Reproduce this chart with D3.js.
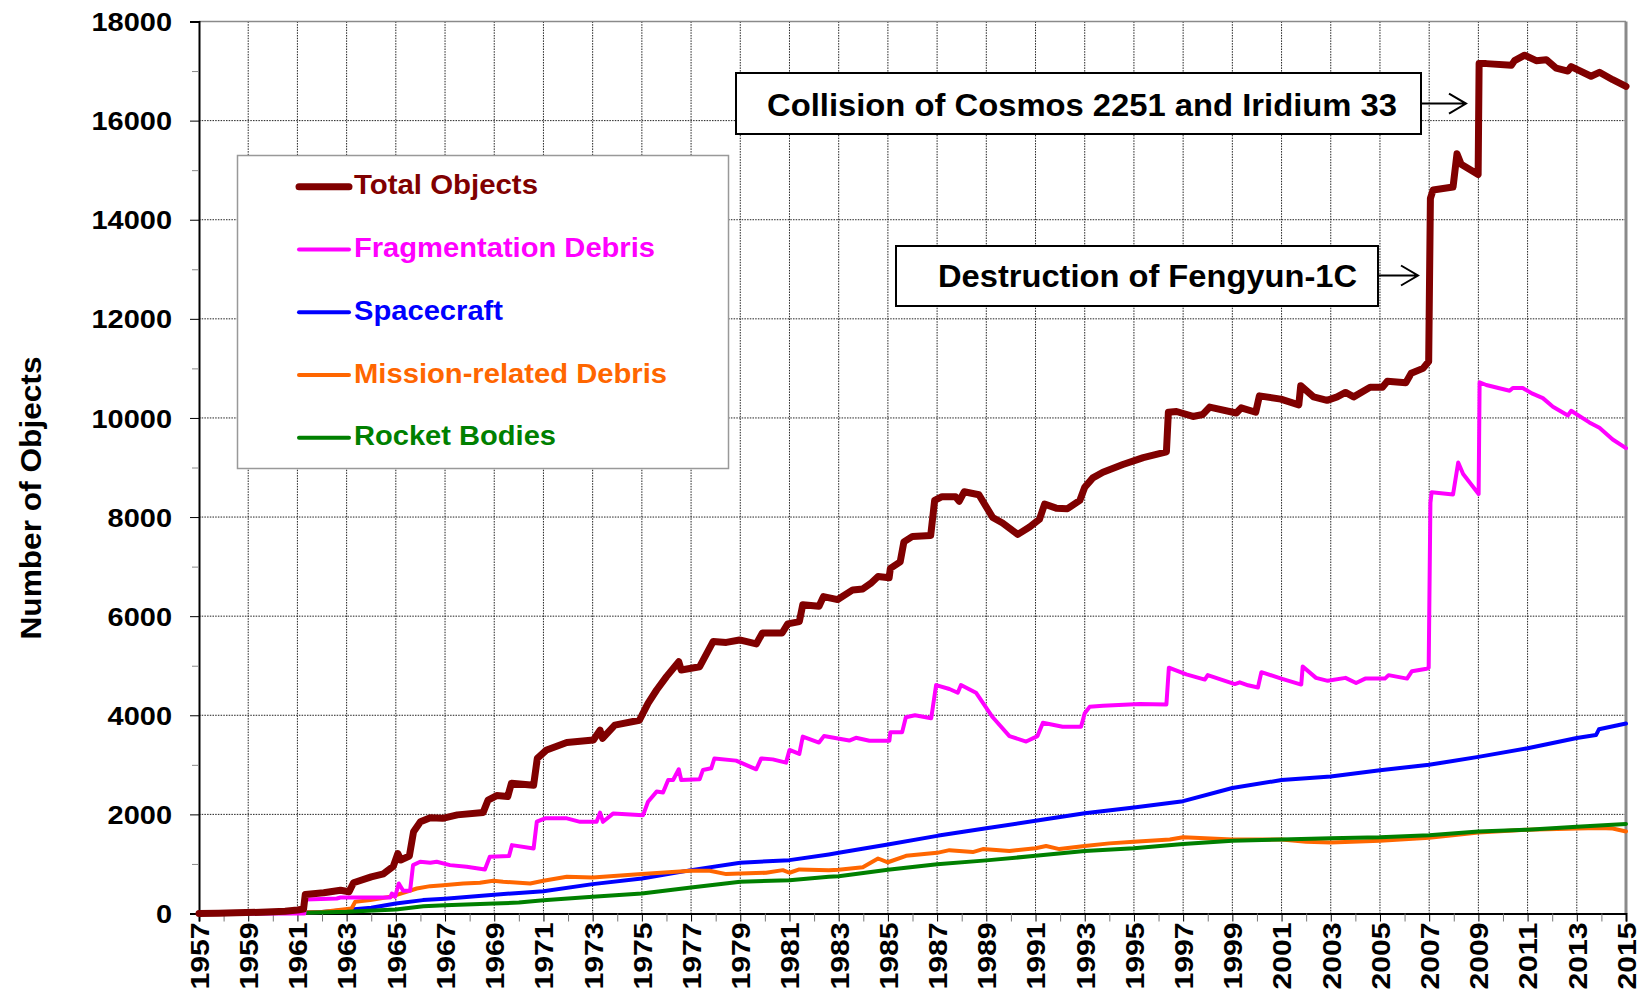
<!DOCTYPE html>
<html>
<head>
<meta charset="utf-8">
<script src="https://cdn.jsdelivr.net/npm/d3@7"></script>
<style>
html,body{margin:0;padding:0;background:#fff;}
svg{display:block;}
text{font-family:"Liberation Sans",Arial,Helvetica,sans-serif;font-weight:bold;}
</style>
</head>
<body>
<svg id="chart" width="1641" height="990"></svg>
<script>
// ---------- DATA ----------
const seriesNames = ["Total Objects","Fragmentation Debris","Spacecraft","Mission-related Debris","Rocket Bodies"];
const yTicks = [0,2000,4000,6000,8000,10000,12000,14000,16000,18000];
const xLabelYears = d3.range(1957, 2016, 2);

const totalObjects = [
[1957.0,0],[1957.8,5],[1958.5,15],[1959.5,25],[1960.5,45],[1961.0,70],[1961.25,90],[1961.32,385],
[1962.07,420],[1962.75,470],[1963.1,440],[1963.28,620],[1964.0,740],[1964.5,800],[1964.9,955],
[1965.08,1210],[1965.2,1080],[1965.55,1160],[1965.72,1650],[1966.0,1850],[1966.4,1930],[1966.9,1920],
[1967.5,1990],[1968.55,2040],[1968.75,2290],[1969.1,2380],[1969.55,2360],[1969.7,2630],[1970.6,2590],
[1970.75,3130],[1971.13,3300],[1971.95,3450],[1973.03,3500],[1973.3,3700],[1973.4,3535],[1973.9,3800],
[1974.9,3900],[1975.25,4240],[1975.6,4510],[1976.0,4780],[1976.5,5080],[1976.6,4915],[1977.35,4980],
[1977.9,5490],[1978.43,5470],[1978.97,5520],[1979.65,5440],[1979.9,5660],[1980.7,5660],[1980.93,5845],
[1981.4,5890],[1981.54,6230],[1982.2,6200],[1982.38,6395],[1982.96,6335],[1983.57,6530],[1983.98,6550],
[1984.3,6660],[1984.6,6800],[1985.05,6775],[1985.1,6965],[1985.5,7095],[1985.65,7500],[1986.0,7610],
[1986.74,7630],[1986.9,8335],[1987.2,8410],[1987.75,8410],[1987.9,8320],[1988.1,8510],[1988.7,8450],
[1989.26,7990],[1989.66,7880],[1990.28,7650],[1990.76,7800],[1991.16,7955],[1991.37,8260],[1991.84,8180],
[1992.3,8170],[1992.8,8335],[1993.0,8600],[1993.33,8790],[1993.74,8905],[1994.55,9060],[1995.2,9170],
[1995.38,9200],[1996.32,9315],[1996.4,10115],[1996.73,10130],[1997.4,10030],[1997.8,10070],[1998.08,10220],
[1999.16,10100],[1999.36,10205],[1999.95,10115],[2000.1,10445],[2000.97,10380],[2001.7,10265],[2001.78,10650],
[2002.3,10425],[2002.85,10355],[2003.26,10425],[2003.6,10515],[2003.93,10425],[2004.6,10620],[2005.1,10620],
[2005.3,10740],[2006.05,10710],[2006.27,10900],[2006.75,11000],[2006.98,11140],[2007.05,14430],[2007.16,14600],
[2007.97,14660],[2008.13,15330],[2008.3,15120],[2008.99,14915],[2009.03,17150],[2009.32,17150],[2010.34,17115],
[2010.47,17210],[2010.88,17320],[2011.35,17210],[2011.76,17230],[2012.16,17060],[2012.64,17000],[2012.77,17090],
[2013.58,16895],[2013.92,16975],[2014.46,16825],[2015.0,16690]
];

const fragmentationDebris = [
[1957.0,0],[1961.28,0],[1961.32,283],[1962.6,303],[1962.75,323],[1964.77,323],[1964.84,404],[1964.97,337],
[1965.12,606],[1965.3,458],[1965.58,458],[1965.7,976],[1965.99,1044],[1966.4,1024],[1966.66,1044],[1967.2,976],
[1967.88,943],[1968.62,889],[1968.82,1145],[1969.6,1158],[1969.72,1380],[1970.6,1313],[1970.73,1852],
[1971.07,1920],[1971.95,1920],[1972.49,1850],[1973.16,1850],[1973.3,2035],[1973.42,1850],[1973.84,2020],
[1975.05,1985],[1975.25,2255],[1975.6,2460],[1975.86,2440],[1976.07,2695],[1976.27,2695],[1976.5,2910],
[1976.6,2695],[1977.35,2710],[1977.48,2895],[1977.82,2930],[1977.95,3130],[1978.83,3085],[1979.65,2910],
[1979.85,3130],[1980.32,3110],[1980.86,3045],[1981.0,3300],[1981.4,3220],[1981.54,3570],[1982.2,3450],
[1982.4,3580],[1983.43,3490],[1983.7,3545],[1984.25,3485],[1985.06,3485],[1985.1,3660],[1985.58,3660],
[1985.73,3960],[1986.1,4000],[1986.76,3940],[1986.96,4610],[1987.5,4530],[1987.84,4455],[1987.97,4610],
[1988.58,4455],[1989.26,3960],[1989.94,3580],[1990.62,3470],[1991.08,3580],[1991.3,3850],[1992.1,3770],
[1992.85,3770],[1993.0,4040],[1993.2,4170],[1993.74,4190],[1995.23,4230],[1996.32,4220],[1996.42,4960],
[1997.13,4825],[1997.88,4720],[1998.0,4810],[1999.1,4630],[1999.3,4665],[1999.64,4605],[2000.04,4560],
[2000.18,4870],[2000.99,4740],[2001.8,4620],[2001.86,4985],[2002.4,4755],[2002.88,4695],[2003.6,4755],
[2004.03,4650],[2004.4,4740],[2005.2,4740],[2005.35,4810],[2006.1,4740],[2006.3,4890],[2006.9,4940],
[2006.98,4960],[2007.05,8290],[2007.1,8500],[2007.97,8455],[2008.18,9100],[2008.38,8870],[2009.01,8465],
[2009.05,10720],[2009.32,10665],[2010.27,10550],[2010.4,10605],[2010.8,10605],[2011.2,10490],[2011.62,10400],
[2012.03,10225],[2012.64,10050],[2012.77,10145],[2013.51,9910],[2013.92,9800],[2014.46,9565],[2015.0,9390]
];

const spacecraft = [
[1957,0],[1959,5],[1961,15],[1962,30],[1963.2,80],[1964.0,115],[1965.0,200],[1966.1,270],[1967.0,300],
[1968.0,340],[1969.0,380],[1970.0,415],[1971,451],[1973,593],[1975,707],[1977,875],[1979,1024],[1981,1077],
[1982.6,1192],[1983,1225],[1985,1392],[1987,1567],[1989,1719],[1991,1871],[1993,2023],[1995,2140],
[1997,2267],[1999,2533],[2001,2693],[2003,2764],[2005,2889],[2007,3000],[2009,3161],[2011,3335],
[2013,3543],[2013.78,3600],[2013.9,3717],[2015,3833]
];

const missionDebris = [
[1957,0],[1960,10],[1962,30],[1963.2,100],[1963.35,236],[1963.96,270],[1964.77,337],[1965.3,417],
[1965.85,505],[1966.4,552],[1966.93,572],[1967.74,606],[1968.42,620],[1968.96,660],[1969.36,640],
[1970.46,606],[1971,660],[1971.95,741],[1973,727],[1975,795],[1977,862],[1977.76,862],[1978.43,795],
[1979,808],[1980.05,822],[1980.73,875],[1981.0,822],[1981.4,889],[1982.6,875],[1983,882],[1983.98,935],
[1984.6,1110],[1985,1034],[1985.74,1164],[1987,1224],[1987.5,1278],[1988.45,1240],[1988.86,1300],
[1989.94,1262],[1991,1316],[1991.43,1361],[1991.97,1300],[1993,1361],[1994.0,1415],[1995,1449],
[1996.46,1493],[1997,1538],[1999,1493],[2001,1493],[2002,1449],[2003,1431],[2005,1467],[2007,1530],
[2009,1633],[2011,1690],[2013,1714],[2013.92,1725],[2014.46,1714],[2015,1656]
];

const rocketBodies = [
[1957,0],[1959,5],[1961,12],[1963,34],[1965,81],[1966.12,148],[1967,168],[1969,202],[1970,220],
[1971,269],[1973,337],[1975,404],[1977,525],[1979,640],[1981,673],[1982.6,741],[1983,753],[1985,882],
[1987,996],[1989,1072],[1991,1164],[1993,1262],[1995,1316],[1997,1404],[1999,1467],[2001,1493],
[2003,1520],[2005,1538],[2007,1578],[2009,1656],[2011,1690],[2013,1749],[2015,1806]
];

const annotations = ["Collision of Cosmos 2251 and Iridium 33","Destruction of Fengyun-1C"];
const yTitle = "Number of Objects";

// ---------- CHART ----------
const svg = d3.select("#chart");
svg.append("rect").attr("width",1641).attr("height",990).attr("fill","#fff");

const L = 199, R = 1626, T = 21.5, B = 913.5;
const x = d3.scaleLinear().domain([1957, 2015]).range([L, R]);
const y = d3.scaleLinear().domain([0, 18000]).range([B, T]);

// gridlines
const grid = svg.append("g");
grid.selectAll("line.gx").data(xLabelYears.filter(v => v > 1957 && v < 2015)).join("line")
  .attr("x1", d => x(d)).attr("x2", d => x(d)).attr("y1", T).attr("y2", B)
  .attr("stroke", "#222").attr("stroke-width", 1).attr("stroke-dasharray", "1.5,1.2");
grid.selectAll("line.gy").data(yTicks.filter(v => v > 0 && v < 18000)).join("line")
  .attr("x1", L).attr("x2", R).attr("y1", d => y(d)).attr("y2", d => y(d))
  .attr("stroke", "#222").attr("stroke-width", 1).attr("stroke-dasharray", "1.5,1.2");

// frame top / right
svg.append("line").attr("x1", L).attr("x2", R).attr("y1", T).attr("y2", T).attr("stroke", "#8a8a8a").attr("stroke-width", 1.5);
svg.append("line").attr("x1", R).attr("x2", R).attr("y1", T).attr("y2", B).attr("stroke", "#8a8a8a").attr("stroke-width", 3);

// Y axis
const yAxis = d3.axisLeft(y).tickValues(yTicks).tickSize(9).tickPadding(18).tickFormat(d3.format("d"));
const gy = svg.append("g").attr("transform", `translate(${L},0)`).call(yAxis);
gy.select(".domain").attr("stroke", "#000").attr("stroke-width", 2);
gy.selectAll(".tick line").attr("stroke", "#000").attr("stroke-width", 1);
gy.selectAll(".tick text").attr("font-size", 26).attr("fill", "#000").attr("dy", "0.35em")
  .attr("textLength", d => String(d).length * 16.1).attr("lengthAdjust", "spacingAndGlyphs");
const yMinor = d3.axisLeft(y).tickValues(d3.range(1000, 18000, 2000)).tickSize(7).tickFormat("");
const gym = svg.append("g").attr("transform", `translate(${L},0)`).call(yMinor);
gym.select(".domain").remove();
gym.selectAll(".tick line").attr("stroke", "#888");

// X axis
const xAxis = d3.axisBottom(x).tickValues(d3.range(1957, 2016, 1)).tickSize(8)
  .tickFormat(d => (d % 2 === 1 ? String(d) : ""));
const gx = svg.append("g").attr("transform", `translate(0,${B})`).call(xAxis);
gx.select(".domain").attr("stroke", "#000").attr("stroke-width", 2);
gx.selectAll(".tick line").attr("stroke", d => d % 2 === 1 ? "#000" : "#777").attr("stroke-width", 1);
gx.selectAll(".tick text")
  .attr("font-size", 26).attr("fill", "#000")
  .attr("text-anchor", "end")
  .attr("transform", "rotate(-90)")
  .attr("x", -9).attr("y", 0).attr("dy", "0.36em")
  .attr("textLength", d => d % 2 === 1 ? 67 : null).attr("lengthAdjust", "spacingAndGlyphs");

// Y title
svg.append("text").attr("transform", "translate(41,498) rotate(-90)")
  .attr("text-anchor", "middle").attr("font-size", 30).attr("fill", "#000")
  .attr("textLength", 283).attr("lengthAdjust", "spacingAndGlyphs").text(yTitle);

// Lines
const line = d3.line().x(d => x(d[0])).y(d => y(d[1]));
const seriesDraw = [
  {data: spacecraft, color: "#0000FF", w: 4},
  {data: missionDebris, color: "#FF6600", w: 4},
  {data: rocketBodies, color: "#008000", w: 4},
  {data: fragmentationDebris, color: "#FF00FF", w: 4},
  {data: totalObjects, color: "#800000", w: 7}
];
svg.append("g").selectAll("path").data(seriesDraw).join("path")
  .attr("d", s => line(s.data)).attr("fill", "none")
  .attr("stroke", s => s.color).attr("stroke-width", s => s.w)
  .attr("stroke-linejoin", "round").attr("stroke-linecap", "round");

// Legend
const legend = svg.append("g");
legend.append("rect").attr("x", 237.5).attr("y", 155.5).attr("width", 491).attr("height", 313)
  .attr("fill", "#fff").attr("stroke", "#999").attr("stroke-width", 1.5);
const legendItems = [
  {name: seriesNames[0], color: "#800000", w: 7, len: 184},
  {name: seriesNames[1], color: "#FF00FF", w: 4, len: 301},
  {name: seriesNames[2], color: "#0000FF", w: 4, len: 149},
  {name: seriesNames[3], color: "#FF6600", w: 4, len: 313},
  {name: seriesNames[4], color: "#008000", w: 4, len: 202}
];
const li = legend.selectAll("g.li").data(legendItems).join("g")
  .attr("transform", (d, i) => `translate(0,${186.7 + i * 62.75})`);
li.append("line").attr("x1", 299).attr("x2", 349).attr("y1", 0).attr("y2", 0)
  .attr("stroke", d => d.color).attr("stroke-width", d => d.w).attr("stroke-linecap", "round");
li.append("text").attr("x", 354).attr("y", 7.6).attr("font-size", 27).attr("fill", d => d.color)
  .attr("textLength", d => d.len).attr("lengthAdjust", "spacingAndGlyphs").text(d => d.name);

// Annotations
function annot(bx, by, bw, bh, tx, ty, tlen, txt, ax1, ax2, ay) {
  const g = svg.append("g");
  g.append("rect").attr("x", bx).attr("y", by).attr("width", bw).attr("height", bh)
    .attr("fill", "#fff").attr("stroke", "#000").attr("stroke-width", 2);
  g.append("text").attr("x", tx).attr("y", ty).attr("font-size", 32).attr("fill", "#000")
    .attr("textLength", tlen).attr("lengthAdjust", "spacingAndGlyphs").text(txt);
  g.append("path").attr("d", `M${ax1},${ay}H${ax2}M${ax2 - 17},${ay - 10}L${ax2},${ay}L${ax2 - 17},${ay + 10}`)
    .attr("fill", "none").attr("stroke", "#000").attr("stroke-width", 2);
}
annot(736, 73, 685, 61, 767, 116, 630, annotations[0], 1421, 1466, 103.6);
annot(896, 246, 482, 60, 938, 287, 419, annotations[1], 1378, 1418, 275.5);
</script>
</body>
</html>
